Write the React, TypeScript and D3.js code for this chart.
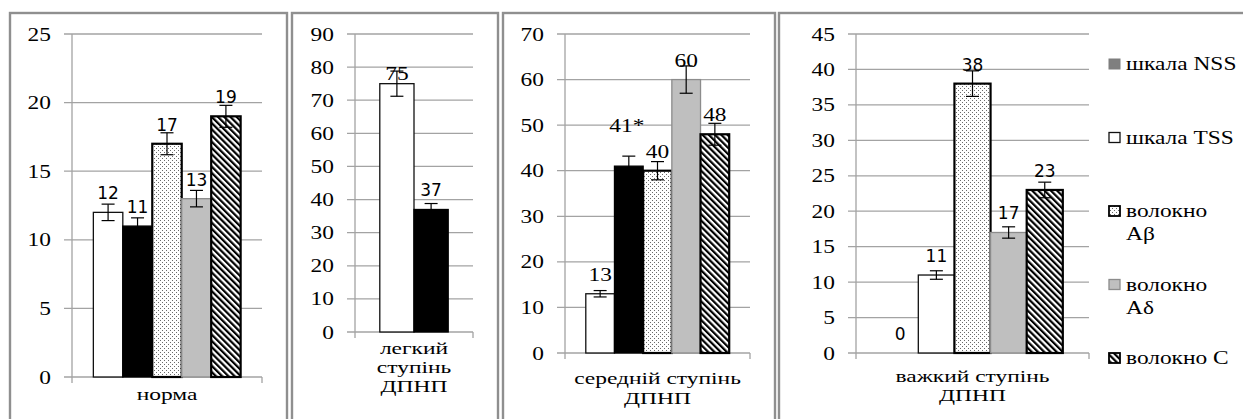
import * as d3 from 'd3';

// series (legend order) and the four panels
const SERIES_LINES = [['шкала NSS'], ['шкала TSS'], ['волокно', 'Aβ'], ['волокно', 'Aδ'], ['волокно C']];
const CATEGORY_LINES = [['норма'], ['легкий', 'ступінь', 'ДПНП'], ['середній ступінь', 'ДПНП'], ['важкий ступінь', 'ДПНП']];

const normaValues = [12, 11, 17, 13, 19];
const normaErrors = [0.6, 0.6, 0.8, 0.6, 0.8];
const mildValues = [75, 37];
const mildErrors = [3.8, 1.8];
const moderateValues = [13, 41, 40, 60, 48];
const moderateErrors = [0.7, 2.2, 2, 3, 2.4];
const moderateLabels = ['13', '41*', '40', '60', '48'];
const severeValues = [0, 11, 38, 17, 23];
const severeErrors = [0, 0.6, 1.8, 0.8, 1.1];

const yMaxes = [25, 90, 70, 45];
const ySteps = [5, 10, 10, 5];

// bar fills per panel
const normaStyles = ['white', 'black', 'dots', 'gray', 'hatch'];
const mildStyles = ['white', 'black'];
const moderateStyles = ['white', 'black', 'dots', 'gray', 'hatch'];
const severeStyles = ['none', 'white', 'dots', 'gray', 'hatch'];
const legendStyles = ['nss', 'white', 'dots', 'gray', 'hatch'];

const SERIF = '"Liberation Serif", "Times New Roman", serif';
const SANS = '"DejaVu Sans", Verdana, sans-serif';
const SX = 1.3; // the picture is stretched sideways
const TOP_Y = 34;

const panels = [
  { values: normaValues, errors: normaErrors, styles: normaStyles, labels: normaValues.map(String), fonts: 'sans',
    frame: [10, 287], plot: [72, 262], base: 377, catY: [400] },
  { values: mildValues, errors: mildErrors, styles: mildStyles, labels: mildValues.map(String), fonts: 'mixed',
    frame: [292, 498], plot: [355, 473], base: 332, catY: [354, 373, 392] },
  { values: moderateValues, errors: moderateErrors, styles: moderateStyles, labels: moderateLabels, fonts: 'serif',
    frame: [503, 775], plot: [565, 750], base: 353, catY: [384, 404] },
  { values: severeValues, errors: severeErrors, styles: severeStyles, labels: severeValues.map(String), fonts: 'sans',
    frame: [779, 1265], plot: [856, 1089], base: 353, catY: [382, 401] },
];

// hand nudges for labels the author moved
const labelShift: Record<string, [number, number]> = {
  '1-0': [0, 9],
  '2-1': [-2, -21],
};

function fillFor(style: string) {
  if (style === 'white') return { fill: '#fff', stroke: '#111', sw: 1.3 };
  if (style === 'black') return { fill: '#000', stroke: '#000', sw: 1.3 };
  if (style === 'dots') return { fill: 'url(#dots)', stroke: '#000', sw: 2.2 };
  if (style === 'gray') return { fill: '#bfbfbf', stroke: '#8c8c8c', sw: 1.3 };
  if (style === 'hatch') return { fill: 'url(#hatch)', stroke: '#000', sw: 2.2 };
  if (style === 'nss') return { fill: '#7f7f7f', stroke: '#7f7f7f', sw: 1 };
  return { fill: 'none', stroke: 'none', sw: 0 };
}

function SText({ x, y, anchor = 'start', size = 18, family = SERIF, sx = SX, children }: any) {
  return (
    <text transform={`translate(${x},${y}) scale(${sx},1)`} textAnchor={anchor} fontSize={size} fontFamily={family} fill="#000">
      {children}
    </text>
  );
}

function Panel({ p, idx }: { p: any; idx: number }) {
  const y = d3.scaleLinear().domain([0, yMaxes[idx]]).range([p.base, TOP_Y]);
  const ticks = d3.range(0, yMaxes[idx] + 0.001, ySteps[idx]);
  const x = d3.scaleBand<number>()
    .domain(d3.range(p.values.length))
    .range(p.plot)
    .paddingInner(0)
    .paddingOuter(0.725);
  const [l, r] = p.plot;
  const grid = '#a3a3a3';

  return (
    <g>
      <rect x={p.frame[0]} y={13} width={p.frame[1] - p.frame[0]} height={430} fill="none" stroke="#8f8f8f" strokeWidth={2.4} />
      {ticks.map(t => (
        <g key={t}>
          <line x1={l - 8} x2={r} y1={y(t)} y2={y(t)} stroke={grid} strokeWidth={1.3} />
          <SText x={l - 21} y={y(t) + 6.5} anchor="end">{t}</SText>
        </g>
      ))}
      <line x1={l} x2={l} y1={TOP_Y} y2={p.base + 6} stroke={grid} strokeWidth={1.3} />
      <line x1={r} x2={r} y1={p.base} y2={p.base + 6} stroke={grid} strokeWidth={1.3} />
      {p.values.map((v: number, i: number) => {
        const s = fillFor(p.styles[i]);
        const bx = x(i)!;
        const bw = x.bandwidth();
        if (s.fill === 'none') return null;
        return <rect key={i} x={bx} y={y(v)} width={bw} height={p.base - y(v)} fill={s.fill} stroke={s.stroke} strokeWidth={s.sw} />;
      })}
      {p.values.map((v: number, i: number) => {
        const e = p.errors[i];
        if (!e) return null;
        const cx = x(i)! + x.bandwidth() / 2;
        return (
          <g key={i} stroke="#000" strokeWidth={1.2}>
            <line x1={cx} x2={cx} y1={y(v + e)} y2={y(v - e)} />
            <line x1={cx - 6.5} x2={cx + 6.5} y1={y(v + e)} y2={y(v + e)} />
            <line x1={cx - 6.5} x2={cx + 6.5} y1={y(v - e)} y2={y(v - e)} />
          </g>
        );
      })}
      {p.values.map((v: number, i: number) => {
        const sh = labelShift[`${idx}-${i}`] || [0, 0];
        const cx = x(i)! + x.bandwidth() / 2 + sh[0];
        const ly = y(v) - 13 + sh[1];
        const serif = p.fonts === 'serif' || (p.fonts === 'mixed' && i === 0);
        return serif
          ? <SText key={i} x={cx} y={ly} anchor="middle">{p.labels[i]}</SText>
          : <SText key={i} x={cx} y={ly} anchor="middle" size={17} family={SANS} sx={1}>{p.labels[i]}</SText>;
      })}
      {CATEGORY_LINES[idx].map((line, k) => (
        <SText key={k} x={(l + r) / 2} y={p.catY[k]} anchor="middle" size={17} sx={1.38}>{line}</SText>
      ))}
    </g>
  );
}

export default function App() {
  const legendX = 1109;
  const legendY = d3.scaleLinear().domain([0, 4]).range([70, 364]);
  return (
    <svg width={1243} height={419} style={{ position: 'absolute', left: 0, top: 0, background: '#fff' }}>
      <defs>
        <pattern id="dots" width={4} height={4} patternUnits="userSpaceOnUse">
          <rect width={4} height={4} fill="#fff" />
          <rect x={0} y={0} width={1} height={1} fill="#6a6a6a" />
          <rect x={2} y={2} width={1} height={1} fill="#6a6a6a" />
        </pattern>
        <pattern id="hatch" width={4.4} height={4.4} patternUnits="userSpaceOnUse" patternTransform="rotate(-45)">
          <rect width={4.4} height={4.4} fill="#fff" />
          <rect width={2.2} height={4.4} fill="#000" />
        </pattern>
      </defs>
      {panels.map((p, i) => <Panel key={i} p={p} idx={i} />)}
      {SERIES_LINES.map((lines, i) => {
        const s = fillFor(legendStyles[i]);
        const by = legendY(i);
        return (
          <g key={i}>
            <rect x={legendX} y={by - 11} width={11} height={10} fill={s.fill} stroke={s.stroke} strokeWidth={Math.min(s.sw, 1.8)} />
            {lines.map((t, k) => (
              <SText key={k} x={1126} y={by + k * 23}>{t}</SText>
            ))}
          </g>
        );
      })}
    </svg>
  );
}
